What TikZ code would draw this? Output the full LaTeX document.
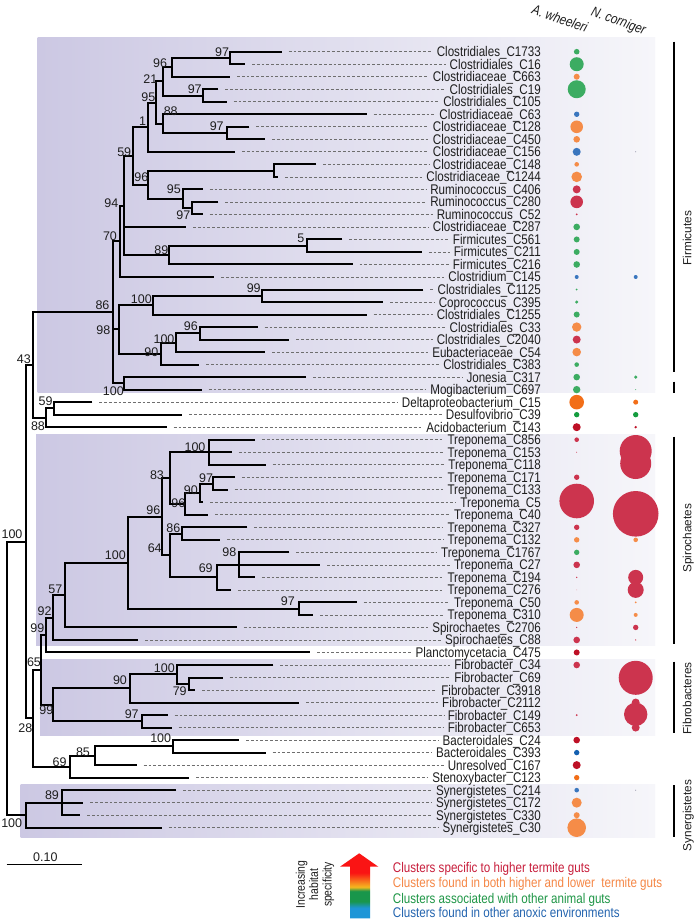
\documentclass[tikz,border=0pt]{standalone}
\usepackage{fontspec}
\setmainfont{Liberation Sans}
\newfontfamily\lfont[FakeStretch=0.83]{Liberation Sans}
\usetikzlibrary{calc}
\definecolor{bgL}{RGB}{204,200,227}
\definecolor{bgR}{RGB}{246,246,250}
\definecolor{cgreen}{RGB}{60,172,98}
\definecolor{corange}{RGB}{245,140,72}
\definecolor{cred}{RGB}{204,52,78}
\definecolor{cblue}{RGB}{58,118,190}
\definecolor{cdkred}{RGB}{190,16,38}
\definecolor{cbrorange}{RGB}{242,110,24}
\definecolor{cdkgreen}{RGB}{20,156,62}
\definecolor{cdkblue}{RGB}{20,96,176}
\definecolor{cgray}{RGB}{150,150,170}
\definecolor{txt}{RGB}{30,30,30}
\definecolor{leadc}{RGB}{110,110,110}
\definecolor{lgred}{RGB}{200,30,60}
\definecolor{lgorange}{RGB}{245,135,70}
\definecolor{lggreen}{RGB}{30,150,70}
\definecolor{lgblue}{RGB}{35,100,175}
\definecolor{arRed}{RGB}{250,20,20}
\definecolor{arOrange}{RGB}{247,140,30}
\definecolor{arYellow}{RGB}{245,185,30}
\definecolor{arGreen}{RGB}{25,150,75}
\definecolor{arBlue}{RGB}{30,150,215}
\pgfdeclareverticalshading{rainbowup}{100bp}{color(0bp)=(arBlue); color(33bp)=(arBlue); color(38bp)=(arGreen); color(46bp)=(arGreen); color(49bp)=(arYellow); color(52bp)=(arOrange); color(60bp)=(arRed); color(100bp)=(arRed)}
\newcommand\tleaf[4]{%
  \coordinate (#1) at (#2,{51.7+12.516*(#3)});
  \node[leaflab] (#1L) at (541,{56.7+12.516*(#3)}) {#4};
  \draw[leader] ($(#1)+(7,0)$) -- ($(#1L.base west)+(-4,-5)$);
}
\newcommand\tnode[4]{%
  \coordinate (#1m) at ($(#3)!0.5!(#4)$);
  \coordinate (#1x) at (#2,0);
  \coordinate (#1) at (#1x |- #1m);
  \draw[branch] (#3) -- (#3 -| #1) -- (#4 -| #1) -- (#4);
}
\newcommand\tmidch[2]{\draw[branch] (#1 |- #2) -- (#2);}
\newcommand\tboot[4]{\node[bsl] (#1) at (#2,#3) {#4};}
\newcommand\bubA[3]{\fill[#3] (576.7,{51.7+12.516*(#1)}) circle[radius=#2];}
\newcommand\bubN[3]{\fill[#3] (635.7,{51.7+12.516*(#1)}) circle[radius=#2];}
\begin{document}
\begin{tikzpicture}[x=1pt,y=-1pt,
  branch/.style={line width=2pt},
  leader/.style={leadc, line width=0.7pt, dash pattern=on 2.8pt off 2pt},
  leaflab/.style={font=\lfont\fontsize{14}{14}\selectfont, anchor=base east, inner sep=0pt, text=txt},
  bsl/.style={font=\fontsize{12.5}{12.5}\selectfont, inner sep=0pt, text height=9pt, text depth=0pt, text=txt},
  cbar/.style={line width=2pt},
  clade/.style={font=\fontsize{11.8}{11.8}\selectfont, rotate=90, inner sep=0pt, text height=8.5pt, text depth=0pt, text=txt},
  hdr/.style={font=\lfont\itshape\fontsize{14}{14}\selectfont, inner sep=0pt, text=txt},
  legtxt/.style={font=\lfont\fontsize{14}{14}\selectfont, anchor=base west, inner sep=0pt}]
\useasboundingbox (0,0) rectangle (697,923);
\fill[white] (0,0) rectangle (697,923);
% clade boxes
\shade[left color=bgL, right color=bgR] (37.7,37.3) rectangle (655,392.5);
\shade[left color=bgL, right color=bgR] (36,434) rectangle (655,645);
\shade[left color=bgL, right color=bgR] (40,659) rectangle (655,735);
\shade[left color=bgL, right color=bgR] (20.7,784) rectangle (655,837.3);
% leaves
\tleaf{l0}{281.7}{0}{Clostridiales\_C1733}
\tleaf{l1}{245}{1}{Clostridiales\_C16}
\tleaf{l2}{230}{2}{Clostridiaceae\_C663}
\tleaf{l3}{218.3}{3}{Clostridiales\_C19}
\tleaf{l4}{226.7}{4}{Clostridiales\_C105}
\tleaf{l5}{366.7}{5}{Clostridiaceae\_C63}
\tleaf{l6}{249.3}{6}{Clostridiaceae\_C128}
\tleaf{l7}{265}{7}{Clostridiaceae\_C450}
\tleaf{l8}{235}{8}{Clostridiaceae\_C156}
\tleaf{l9}{316}{9}{Clostridiaceae\_C148}
\tleaf{l10}{278.3}{10}{Clostridiaceae\_C1244}
\tleaf{l11}{202.7}{11}{Ruminococcus\_C406}
\tleaf{l12}{218.3}{12}{Ruminococcus\_C280}
\tleaf{l13}{202.7}{13}{Ruminococcus\_C52}
\tleaf{l14}{186}{14}{Clostridiaceae\_C287}
\tleaf{l15}{342.3}{15}{Firmicutes\_C561}
\tleaf{l16}{421.7}{16}{Firmicutes\_C211}
\tleaf{l17}{352.5}{17}{Firmicutes\_C216}
\tleaf{l18}{214.3}{18}{Clostridium\_C145}
\tleaf{l19}{423.3}{19}{Clostridiales\_C1125}
\tleaf{l20}{383.3}{20}{Coprococcus\_C395}
\tleaf{l21}{366.7}{21}{Clostridiales\_C1255}
\tleaf{l22}{257.7}{22}{Clostridiales\_C33}
\tleaf{l23}{289.3}{23}{Clostridiales\_C2040}
\tleaf{l24}{265}{24}{Eubacteriaceae\_C54}
\tleaf{l25}{199}{25}{Clostridiales\_C383}
\tleaf{l26}{306}{26}{Jonesia\_C317}
\tleaf{l27}{201.7}{27}{Mogibacterium\_C697}
\tleaf{l28}{92.3}{28}{Deltaproteobacterium\_C15}
\tleaf{l29}{182.3}{29}{Desulfovibrio\_C39}
\tleaf{l30}{166.7}{30}{Acidobacterium\_C143}
\tleaf{l31}{255}{31}{Treponema\_C856}
\tleaf{l32}{231.7}{32}{Treponema\_C153}
\tleaf{l33}{265.7}{33}{Treponema\_C118}
\tleaf{l34}{235}{34}{Treponema\_C171}
\tleaf{l35}{227.7}{35}{Treponema\_C133}
\tleaf{l36}{203.3}{36}{Treponema\_C5}
\tleaf{l37}{208.3}{37}{Treponema\_C40}
\tleaf{l38}{247.3}{38}{Treponema\_C327}
\tleaf{l39}{220}{39}{Treponema\_C132}
\tleaf{l40}{289.3}{40}{Treponema\_C1767}
\tleaf{l41}{320}{41}{Treponema\_C27}
\tleaf{l42}{255}{42}{Treponema\_C194}
\tleaf{l43}{231}{43}{Treponema\_C276}
\tleaf{l44}{356.7}{44}{Treponema\_C50}
\tleaf{l45}{313.3}{45}{Treponema\_C310}
\tleaf{l46}{236.7}{46}{Spirochaetes\_C2706}
\tleaf{l47}{138.3}{47}{Spirochaetes\_C88}
\tleaf{l48}{310}{48}{Planctomycetacia\_C475}
\tleaf{l49}{273.3}{49}{Fibrobacter\_C34}
\tleaf{l50}{222.7}{50}{Fibrobacter\_C69}
\tleaf{l51}{195}{51}{Fibrobacter\_C3918}
\tleaf{l52}{299.3}{52}{Fibrobacter\_C2112}
\tleaf{l53}{167.7}{53}{Fibrobacter\_C149}
\tleaf{l54}{171.7}{54}{Fibrobacter\_C653}
\tleaf{l55}{239}{55}{Bacteroidales\_C24}
\tleaf{l56}{265.7}{56}{Bacteroidales\_C393}
\tleaf{l57}{136.7}{57}{Unresolved\_C167}
\tleaf{l58}{189.3}{58}{Stenoxybacter\_C123}
\tleaf{l59}{176}{59}{Synergistetes\_C214}
\tleaf{l60}{83.3}{60}{Synergistetes\_C172}
\tleaf{l61}{80}{61}{Synergistetes\_C330}
\tleaf{l62}{161.7}{62}{Synergistetes\_C30}
% internal nodes
\tnode{n97a}{230}{l0}{l1}
\tnode{n96a}{171.7}{n97a}{l2}
\tnode{n97b}{203.3}{l3}{l4}
\tnode{n21}{163.3}{n96a}{n97b}
\tnode{n97c}{226.7}{l6}{l7}
\tnode{n88a}{163.3}{l5}{n97c}
\tnode{n95a}{156}{n21}{n88a}
\tnode{n1}{147.7}{n95a}{l8}
\tnode{nC}{274}{l9}{l10}
\tnode{n97d}{191.7}{l12}{l13}
\tnode{n95b}{183.3}{l11}{n97d}
\tnode{n96b}{147.7}{nC}{n95b}
\tnode{n59a}{132.7}{n1}{n96b}
\tnode{n5}{307.3}{l15}{l16}
\tnode{n89a}{169.3}{n5}{l17}
\tnode{n94}{124.3}{n59a}{n89a}
\tmidch{n94}{l14}
\tnode{n70}{120}{n94}{l18}
\tnode{n99a}{261.7}{l19}{l20}
\tnode{n100a}{153.3}{n99a}{l21}
\tnode{n96c}{200}{l22}{l23}
\tnode{n100b}{175.7}{n96c}{l24}
\tnode{n90a}{161}{n100b}{l25}
\tnode{n98a}{119.3}{n100a}{n90a}
\tnode{n100c}{124.3}{l26}{l27}
\tnode{n86a}{113.3}{n70}{n100c}
\tmidch{n86a}{n98a}
\tnode{n59b}{54}{l28}{l29}
\tnode{n88b}{46}{n59b}{l30}
\tnode{n43}{33.3}{n86a}{n88b}
\tnode{n100d}{209}{l31}{l33}
\tmidch{n100d}{l32}
\tnode{n97e}{212.7}{l34}{l35}
\tnode{n90b}{200}{n97e}{l36}
\tnode{n96d}{185}{n90b}{l37}
\tnode{n83}{170}{n100d}{n96d}
\tnode{n86b}{181.7}{l38}{l39}
\tnode{n98b}{239.3}{l40}{l42}
\tmidch{n98b}{l41}
\tnode{n69a}{216.7}{n98b}{l43}
\tnode{n64}{170}{n86b}{n69a}
\tnode{n96e}{162.3}{n83}{n64}
\tnode{n97f}{299.3}{l44}{l45}
\tnode{n100e}{127.7}{n96e}{n97f}
\tnode{n57}{65}{n100e}{l46}
\tnode{n92}{53.3}{n57}{l47}
\tnode{n99b}{45.5}{n92}{l48}
\tnode{n79}{189}{l50}{l51}
\tnode{n100f}{176.7}{l49}{n79}
\tnode{n90c}{130}{n100f}{l52}
\tnode{n97g}{141.7}{l53}{l54}
\tnode{n99c}{53.3}{n90c}{n97g}
\tnode{n65}{41}{n99b}{n99c}
\tnode{n100g}{173.3}{l55}{l56}
\tnode{n85}{95}{n100g}{l57}
\tnode{n69b}{70}{n85}{l58}
\tnode{n28}{33.3}{n65}{n69b}
\tnode{nA}{26}{n43}{n28}
\tnode{n89b}{61.7}{l59}{l61}
\tmidch{n89b}{l60}
\tnode{nS}{26}{n89b}{l62}
\tnode{root}{6.5}{nA}{nS}
% bootstrap values
\tboot{b1}{222}{51.7}{97}
\tboot{b2}{160}{62.7}{96}
\tboot{b3}{150.3}{79.3}{21}
\tboot{b4}{148.3}{96.7}{95}
\tboot{b5}{142.5}{120.7}{1}
\tboot{b6}{124.2}{151.7}{59}
\tboot{b7}{194.7}{89.3}{97}
\tboot{b8}{170.7}{111}{88}
\tboot{b9}{216.7}{126}{97}
\tboot{b10}{141.3}{176.7}{96}
\tboot{b11}{173.8}{189}{95}
\tboot{b12}{183.3}{215}{97}
\tboot{b13}{111.3}{202.7}{94}
\tboot{b14}{110}{235.7}{70}
\tboot{b15}{300.8}{238.3}{5}
\tboot{b16}{161.3}{250}{89}
\tboot{b17}{253.7}{288.3}{99}
\tboot{b18}{141.3}{299}{100}
\tboot{b19}{102.5}{305}{86}
\tboot{b20}{103.3}{330}{98}
\tboot{b21}{190.8}{326}{96}
\tboot{b22}{164}{339.3}{100}
\tboot{b23}{151.3}{351.7}{90}
\tboot{b24}{23.8}{359.3}{43}
\tboot{b25}{113.3}{390.7}{100}
\tboot{b26}{45.7}{400.7}{59}
\tboot{b27}{38}{426}{88}
\tboot{b28}{195}{446.7}{100}
\tboot{b29}{157}{475}{83}
\tboot{b30}{206}{477.7}{97}
\tboot{b31}{190.8}{490}{90}
\tboot{b32}{178.3}{502.7}{96}
\tboot{b33}{153.3}{510}{96}
\tboot{b34}{173.3}{527.7}{86}
\tboot{b35}{12}{534.3}{100}
\tboot{b36}{154.7}{547.7}{64}
\tboot{b37}{229.3}{552.3}{98}
\tboot{b38}{115.3}{555}{100}
\tboot{b39}{205.7}{567.7}{69}
\tboot{b40}{55.3}{589}{57}
\tboot{b41}{287.8}{601}{97}
\tboot{b42}{44.7}{611}{92}
\tboot{b43}{37.3}{628.3}{99}
\tboot{b44}{34}{661.7}{65}
\tboot{b45}{164.3}{667.7}{100}
\tboot{b46}{120}{680}{90}
\tboot{b47}{179.7}{691}{79}
\tboot{b48}{46.3}{710}{99}
\tboot{b49}{131.7}{714}{97}
\tboot{b50}{25.3}{728.3}{28}
\tboot{b51}{160.7}{738.3}{100}
\tboot{b52}{83}{751.7}{85}
\tboot{b53}{59.7}{761.7}{69}
\tboot{b54}{52}{795}{89}
\tboot{b55}{11.7}{823.3}{100}
% column headers
\node[hdr, rotate=-19] (hA) at (560,18.3) {A. wheeleri};
\node[hdr, rotate=-20] (hN) at (618.3,21.7) {N. corniger};
% bubbles A. wheeleri
\bubA{0}{2.8}{cgreen}
\bubA{1}{7}{cgreen}
\bubA{2}{3}{corange}
\bubA{3}{9}{cgreen}
\bubA{5}{2.7}{cblue}
\bubA{6}{6.3}{corange}
\bubA{7}{3.3}{corange}
\bubA{8}{4}{cblue}
\bubA{9}{2.3}{corange}
\bubA{10}{5.3}{corange}
\bubA{11}{4}{cred}
\bubA{12}{6.3}{cred}
\bubA{13}{1}{cred}
\bubA{14}{3.3}{cgreen}
\bubA{15}{3}{cgreen}
\bubA{16}{3}{cgreen}
\bubA{17}{3.3}{cgreen}
\bubA{18}{2}{cblue}
\bubA{19}{1}{cgreen}
\bubA{20}{1.7}{cgreen}
\bubA{21}{3}{cgreen}
\bubA{22}{4.7}{corange}
\bubA{23}{4}{cred}
\bubA{24}{4.3}{corange}
\bubA{25}{2.3}{cgreen}
\bubA{26}{3.3}{cgreen}
\bubA{27}{3.7}{cgreen}
\bubA{28}{7.3}{cbrorange}
\bubA{29}{2.7}{cdkgreen}
\bubA{30}{4}{cdkred}
\bubA{31}{2.3}{cred}
\bubA{32}{0.5}{cred}
\bubA{34}{2.7}{cred}
\fill[cred] (576.7,501) circle[radius=17.3];
\bubA{38}{2.7}{cred}
\bubA{39}{2.7}{corange}
\bubA{40}{2.7}{cgreen}
\bubA{41}{3.3}{cred}
\bubA{42}{0.7}{cred}
\bubA{43}{0.5}{cred!40}
\bubA{44}{2.3}{corange}
\bubA{45}{7}{corange}
\bubA{46}{0.7}{cred}
\bubA{47}{3.3}{cred}
\bubA{48}{3}{cdkred}
\bubA{49}{3.3}{cred}
\bubA{53}{1}{cred}
\bubA{55}{3.3}{cdkred}
\bubA{56}{2.7}{cdkblue}
\bubA{57}{4}{cdkred}
\bubA{58}{2.7}{cbrorange}
\bubA{59}{2.3}{cblue}
\bubA{60}{5}{corange}
\bubA{61}{3}{corange}
\bubA{62}{9.3}{corange}
% bubbles N. corniger
\bubN{8}{0.6}{cgray}
\bubN{18}{2}{cblue}
\bubN{26}{1.7}{cgreen}
\bubN{27}{0.5}{cgreen}
\bubN{28}{2.5}{cbrorange}
\bubN{29}{2.7}{cdkgreen}
\bubN{30}{1.3}{cdkred}
\fill[cred] (635.7,451) circle[radius=16];
\fill[cred] (635.7,463.5) circle[radius=15.5];
\bubN{39}{2.3}{corange}
\fill[cred] (635.7,513.8) circle[radius=22.8];
\bubN{42}{7.5}{cred}
\bubN{43}{8}{cred}
\bubN{44}{1}{corange}
\bubN{45}{2}{corange}
\bubN{46}{2.7}{cred}
\bubN{47}{0.7}{cred}
\fill[cred] (635.7,677.8) circle[radius=17];
\bubN{52}{4}{cred}
\fill[cred] (635.7,714.3) circle[radius=11.7];
\bubN{54}{4}{cred}
\bubN{59}{0.6}{cgray}
% clade bars
\coordinate (f1) at (674.3,41.7); \coordinate (f2) at (674.3,371.7);
\coordinate (f3) at (674.3,381.7); \coordinate (f4) at (674.3,392.7);
\coordinate (s1) at (674.3,436.7); \coordinate (s2) at (674.3,644);
\coordinate (fb1) at (674.3,661.7); \coordinate (fb2) at (674.3,733.3);
\coordinate (sy1) at (674.3,785); \coordinate (sy2) at (674.3,837.3);
\draw[cbar] (f1) -- (f2);
\draw[cbar] (f3) -- (f4);
\draw[cbar] (s1) -- (s2);
\draw[cbar] (fb1) -- (fb2);
\draw[cbar] (sy1) -- (sy2);
\node[clade] (cF) at (687,238.3) {Firmicutes};
\node[clade] (cSp) at (687,538.3) {Spirochaetes};
\node[clade] (cFb) at (687,698.3) {Fibrobacteres};
\node[clade] (cSy) at (687,815.5) {Synergistetes};
% scale bar
\coordinate (sb1) at (6.7,864.3); \coordinate (sb2) at (81.7,864.3);
\draw[line width=1.6pt] (sb1) -- (sb2);
\node[bsl] (sbl) at (45.3,856.7) {0.10};
% legend arrow
\shade[shading=rainbowup] (340,866.7) -- (359.2,853.3) -- (378.3,866.7) -- (370,866.7) -- (370,918.3) -- (350,918.3) -- (350,866.7) -- cycle;
\node[font=\lfont\fontsize{12.5}{13.3}\selectfont, rotate=90, align=center, inner sep=0pt, text=txt] (inc) at (315,884.5) {Increasing\\habitat\\specificity};
\node[legtxt, text=lgred] (lg1) at (392.7,872.8) {Clusters specific to higher termite guts};
\node[legtxt, text=lgorange] (lg2) at (392.7,887.8) {Clusters found in both higher and lower\ \ termite guts};
\node[legtxt, text=lggreen] (lg3) at (392.7,903.5) {Clusters associated with other animal guts};
\node[legtxt, text=lgblue] (lg4) at (392.7,917.8) {Clusters found in other anoxic environments};
\end{tikzpicture}
\end{document}
